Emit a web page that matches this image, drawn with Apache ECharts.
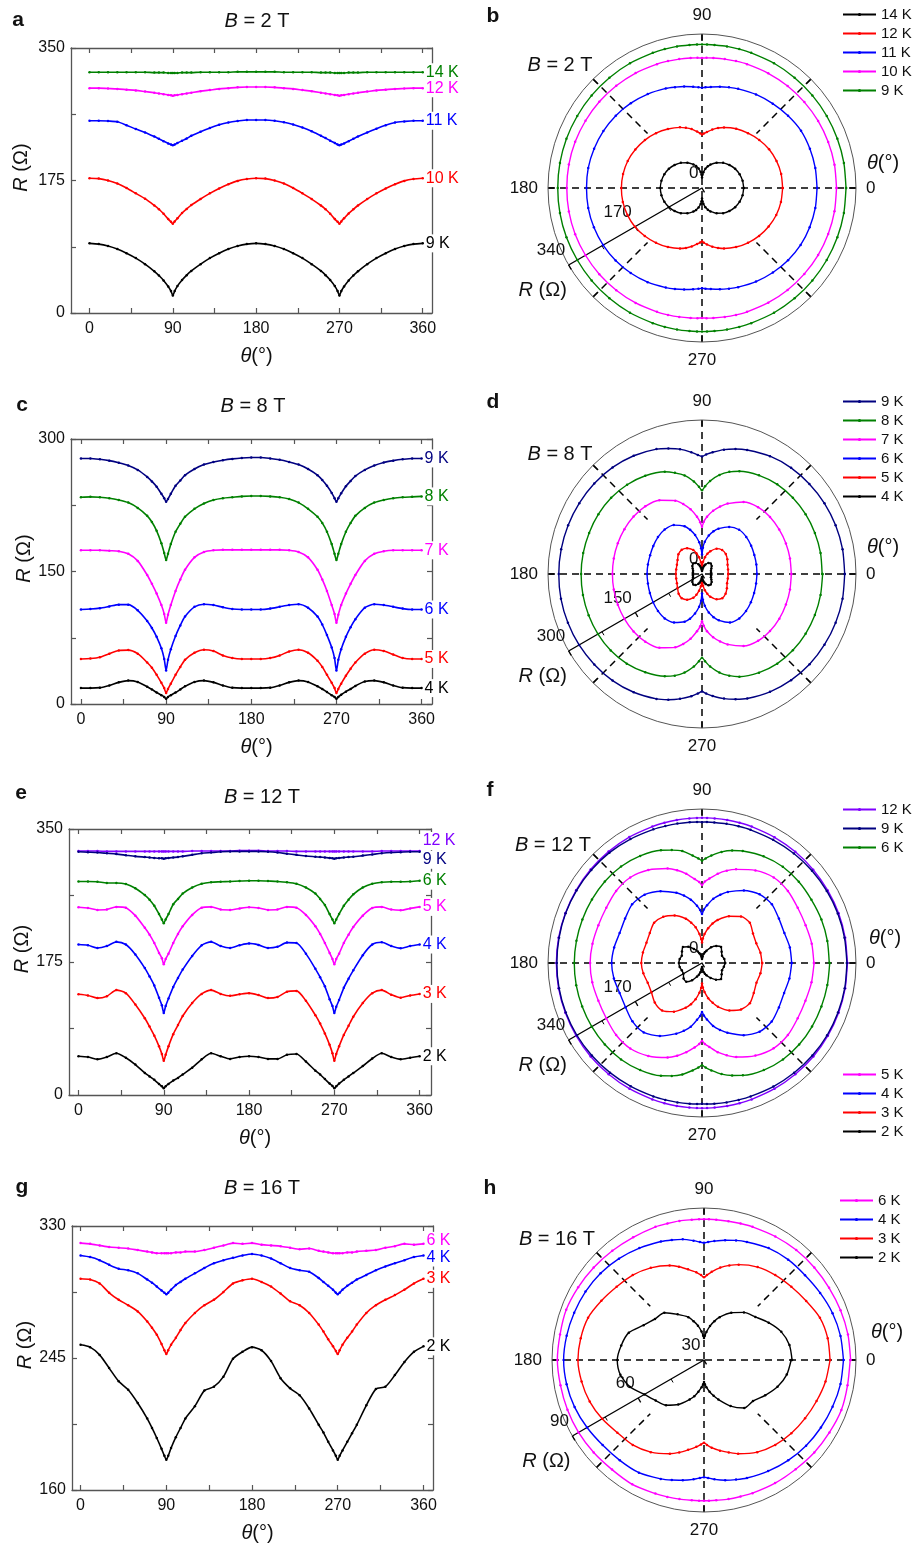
<!DOCTYPE html>
<html><head><meta charset="utf-8">
<script src="https://cdn.jsdelivr.net/npm/echarts/dist/echarts.min.js"></script>
<style>html,body{margin:0;padding:0;background:#fff}#c{width:917px;height:1548px}</style>
</head><body><div id="c"></div>
<script>
// ---------- data ----------
const TH = [0,10,20,30,40,50,60,70, 75,80,85,88,90,92,95,100,105, 110,120,130,140,150,160,170,180,190,200,210,220,230,240,250, 255,260,265,268,270,272,275,280,285, 290,300,310,320,330,340,350,360];

// B = 2 T
const R2_14 = [318,318,318,318,318,318,318,317.5, 317.5,317.5,317,317,317,317,317,317.5,317.5, 317.5,318,318,318,318,318.5,318.5,318.5,318.5,318.5,318,318,318,318,317.5, 317.5,317.5,317,317,317,317,317,317.5,317.5, 317.5,318,318,318,318,318,318,318];
const R2_12 = [297,297,296.5,296,295,294,292.5,291, 290,289,288,287.5,287,287.5,288,289,290, 291,293,294.5,296,297,298,298.5,298.5,298.5,298,297,296,294.5,293,291, 290,289,288,287.5,287,287.5,288,289,290, 291,292.5,294,295,296,296.5,297,297];
const R2_11 = [254,254,253.5,252.5,248,243,238.5,233, 230,227,224,222.5,221.5,222.5,224.5,227.5,230.5, 234,239.5,244.5,248.5,251.5,253.5,255,255,255,254,252,249,245,240,234, 231,227.5,224.5,222.5,221.5,222.5,224,227,230, 233,238.5,243.5,248,251.5,253,254,254];
const R2_10 = [178,177.5,175,171,165,158,151,142, 137,131,124,120.5,118,121,125,132,137.5, 142.5,150.5,158,164.5,170,174.5,177,178,177.5,175,171,165,158,150.5,142, 137,131,124,120.5,118,121,125,131.5,137, 142,150.5,158,164.5,170,174.5,177,178];
const R2_9 = [92,91,88.5,84.5,79,72.5,64.5,55, 49.5,43,35,29,23,29,35.5,43.5,50, 55.5,64.5,72.5,79,84.5,88.5,91,92,91,88.5,84.5,79,72.5,64.5,55.5, 50,43.5,35.5,29,23,29,35,43,49.5, 55,64.5,72.5,79,84.5,88.5,91,92];

// B = 8 T
const R8_9 = [278,278,277,275.5,273,270,265,257, 252,246,238,233,229,232,238,247,253, 259,266,271,274,276,277.5,278.5,279,279,278,276.5,274,271,266,259, 253.5,247,239,233,229,233,238.5,246.5,252.5, 258,265,270,273.5,275.5,277,278,278];
const R8_8 = [234,234.5,234,233,231,228,222,213, 206,196,182,171,163,170,181,195,204, 212,221,227,231,233,234,235,235.5,235.5,235,234,232,228,221,212, 205,195,181,170,163,170,181,195,205, 213,222,228,231,233,234,234.5,235];
const R8_7 = [174,174,174,173.5,173,170,162,146, 136,125,112,102,92,101,112,128,141, 152,166,172,174,174.5,174.5,174.5,174.5,174.5,174.5,174.5,174,172,166,152, 141,128,112,102,92,101,112,125,136, 146,162,170,173,174,174,174,174];
const R8_6 = [107,107.5,108.5,110.5,112.5,112.5,106,94, 86,76,63,51,38,50,62,77,89, 99,110,113,112,109.5,107.5,107,107,107,108,110,112,113,109,99, 90,78,64,52,38,50,62,76,87, 96,109,113,112,110,108,107,107];
const R8_5 = [51,51.5,53,57,60.5,61,57,47, 41,33,24,18,12.5,17,23,33,42, 50,58,61.5,60,55,52,51,51,51,52,55,59.5,61.5,58,49, 42,33,24,18,12.5,17,23,32,40, 47,57,61.5,60,56,52,51,51];
const R8_4 = [18,18,18.5,21,24.5,26.5,25,19.5, 16.5,13,10,8,6,8,10,13,16.5, 20,25,26.5,24.5,21,18.5,18,18,18,18.5,21,24.5,26.5,25,20, 17,13.5,10,8,6,8,10.5,14,17, 20.5,25.5,26.5,24.5,21,18.5,18,18];

// B = 12 T
const R12_12 = [321,321,321,320.5,320.5,320.5,320.5,320.5, 320.5,320.5,320.5,320.5,320.5,320.5,320.5,320.5,320.5, 320.5,321,321,321,321,321,321.5,321.5,321.5,321,321,321,320.5,320.5,320.5, 320.5,320.5,320.5,320.5,320.5,320.5,320.5,320.5,320.5, 320.5,320.5,320.5,321,321,321,321,321];
const R12_9 = [320,319.5,319,318,317,315.5,314,313, 312.5,312,311.5,311.5,311,311.5,312,312.5,313, 314,316,318,319,320,320.5,320.5,320.5,320.5,320,319,317.5,316,314.5,313.5, 313,312.5,312,311.5,311,311.5,312,312.5,313, 313.5,315,316.5,318,319,319.5,320,320];
const R12_6 = [281,281,280.5,279,279,277.5,272,263, 257,249,238,231,226,231,238,251,258, 265,273,278,280,280.5,281,281.5,282,282,281.5,281,280,278,273,265, 258,250,238,231,226,231,238,249,257, 264,273,278,280,280.5,280.5,281,282];
const R12_5 = [247,246,243.5,244,247.5,246.5,236,220, 211,200,187,180,172,179,186,200,212, 222,237,246.5,247.5,244,243.5,245.5,247,246,243.5,244,247.5,246.5,237,222, 212,200,187,179,172,179,186,200,211, 221,236,246,247.5,244,243,245.5,247.5];
const R12_4 = [198,197,193.5,196,201.5,198,185,167, 156,144,128,118,108,117,127,142,154, 165,183,197,201.5,196,193.5,197,199.5,197.5,193.5,195,200.5,200,186,166, 155,143,126,117,108,116,125,141,153, 164,184,198,201,196,193,196,198];
const R12_3 = [132.5,131,127.5,130,138,134,119,101, 90,78,64,54,45,53,64,80,92, 104,121,133,138,133,130.5,132.5,134,131.5,127.5,129,136,137,124,105, 94,81,66,55,45,54,64,79,91, 103,121,134,138,132,128,131,133];
const R12_2 = [51,50,47,50,55,49,40,29, 24.5,20,14.5,11.5,9,11.5,14.5,19,22.5, 27,36,47,55,51,47.5,50,51,50,47.5,47.5,53,54,44,32, 27,21,15,12,9,11.5,15,20,24.5, 29,38,48,55,50,47,49,51];

// B = 16 T
const R16_6 = [319,318.5,317.5,316.5,316,315.5,314.5,313.5, 313,312.5,312.5,312.5,312.5,312.5,312.5,313,313, 313.5,313.5,314.5,316,317.5,319,318.5,319,318,317.5,317,316,315,315.5,314, 313.5,313,312.5,312.5,312.5,312.5,312.5,313,313, 313.5,314,314.5,316,317,318.5,318,318.5];
const R16_4 = [311,310,308,305,302.5,301.5,299.5,295.5, 293.5,291,288.5,287,286,287,289,292,294, 296,299.5,303,306,308,309.5,311,312,311,309,306,303,301.5,300.5,296.5, 294,291.5,289,287,286,287,289,291.5,293.5, 295.5,298.5,301.5,304,306,308,310,311];
const R16_3 = [296,295.5,293,287,282.5,279,275,268.5, 264.5,260,254,250,247.5,250,253.5,258,263, 267.5,274,279,282.5,287.5,293,295,296,294,291,286.5,281.5,279,274,266.5, 262,257,252.5,249.5,247.5,250,253.5,258,262, 266.5,274,279,282.5,285.5,289,293,296];
const R16_2 = [253.5,252,247,238.5,230,224.5,216,206, 200,193.5,186.5,182,179.5,182,187,194,200, 206,214,224,226.5,233,244.5,249,252,250,243,232,225.5,221,212.5,202, 197,191,185.5,182,179.5,182,185.5,191,196.5, 202,214.5,225,226.5,234,242.5,249,252.5];

// names / labels
const NAMES_A = ['14 K','12 K','11 K','10 K','9 K'];
const NAMES_C = ['9 K','8 K','7 K','6 K','5 K','4 K'];
const NAMES_E = ['12 K','9 K','6 K','5 K','4 K','3 K','2 K'];
const NAMES_G = ['6 K','4 K','3 K','2 K'];
const LEG_B = ['14 K','12 K','11 K','10 K','9 K'];
const LEG_D = ['9 K','8 K','7 K','6 K','5 K','4 K'];
const LEG_F = ['12 K','9 K','6 K','5 K','4 K','3 K','2 K'];
const LEG_H = ['6 K','4 K','3 K','2 K'];
const FIELDS = ['2','8','12','16'];

// tick labels
const XT = [0,45,90,135,180,225,270,315,360];
const XL = [0,90,180,270,360];
const YL_A = [0,175,350], YT_A = [0,87.5,175,262.5,350];
const YL_C = [0,150,300], YT_C = [0,75,150,225,300];
const YL_E = [0,175,350], YT_E = [0,87.5,175,262.5,350];
const YL_G = [160,245,330], YT_G = [160,202.5,245,287.5,330];
const RL_B = [0,170,340], RL_D = [0,150,300], RL_F = [0,170,340], RL_H = [30,60,90];
const ANG_L = [0,90,180,270];

// ---------- layout ----------
const FONT = '"Liberation Sans", Arial, Helvetica, sans-serif';
const C = {k:'#000000', r:'#ff0000', b:'#0000ff', m:'#ff00ff', g:'#008000', n:'#000080', p:'#8000ff'};
const ital = s => ({fontSize:s, fontFamily:FONT, fontStyle:'italic', color:'#111'});

const CART = [
  {id:'a', grid:{left:71, top:48, width:361, height:265}, xr:[-20,370], yl:YL_A, yt:YT_A, yGap:40,
   names:NAMES_A, data:[R2_14,R2_12,R2_11,R2_10,R2_9], cols:[C.g,C.m,C.b,C.r,C.k], dy:[0,0,0,0,0]},
  {id:'c', grid:{left:71, top:439, width:361, height:265}, xr:[-10.5,371], yl:YL_C, yt:YT_C, yGap:33,
   names:NAMES_C, data:[R8_9,R8_8,R8_7,R8_6,R8_5,R8_4], cols:[C.n,C.g,C.m,C.b,C.r,C.k], dy:[0,0,0,0,0,0]},
  {id:'e', grid:{left:69, top:829, width:362, height:266}, xr:[-10,372], yl:YL_E, yt:YT_E, yGap:36,
   names:NAMES_E, data:[R12_12,R12_9,R12_6,R12_5,R12_4,R12_3,R12_2], cols:[C.p,C.n,C.g,C.m,C.b,C.r,C.k], dy:[-10,8,0,0,0,0,0]},
  {id:'g', grid:{left:72, top:1226, width:361, height:264}, xr:[-9,370], yl:YL_G, yt:YT_G, yGap:36,
   names:NAMES_G, data:[R16_6,R16_4,R16_3,R16_2], cols:[C.m,C.b,C.r,C.k], dy:[-3,2,0,0]}
];
const POL = [
  {id:'b', c:[702,188], r:154, dr:[0,340], rl:RL_B, legLeft:842, leg:[{top:7, items:[0,1,2,3,4]}],
   names:LEG_B, data:[R2_9,R2_10,R2_11,R2_12,R2_14], cols:[C.k,C.r,C.b,C.m,C.g]},
  {id:'d', c:[702,574], r:154, dr:[0,300], rl:RL_D, legLeft:842, leg:[{top:394, items:[0,1,2,3,4,5]}],
   names:LEG_D, data:[R8_9,R8_8,R8_7,R8_6,R8_5,R8_4], cols:[C.n,C.g,C.m,C.b,C.r,C.k]},
  {id:'f', c:[702,963], r:154, dr:[0,340], rl:RL_F, legLeft:842, leg:[{top:802, items:[0,1,2]},{top:1067, items:[3,4,5,6]}],
   names:LEG_F, data:[R12_12,R12_9,R12_6,R12_5,R12_4,R12_3,R12_2], cols:[C.p,C.n,C.g,C.m,C.b,C.r,C.k]},
  {id:'h', c:[704,1360], r:152, dr:[155,325], rl:RL_H, legLeft:839, leg:[{top:1193, items:[0,1,2,3]}],
   names:LEG_H, data:[R16_6,R16_4,R16_3,R16_2], cols:[C.m,C.b,C.r,C.k]}
];
const LETTERS = [['a',18,20],['b',493,16],['c',22,405],['d',493,402],['e',21,793],['f',490,790],['g',22,1187],['h',490,1188]];
const CART_TITLES = [[257,21],[253,406],[262,797],[262,1188]];
const POL_TITLES = [[560,65],[560,454],[553,845],[557,1239]];
const POL_THETA = [[883,163],[883,547],[885,938],[887,1332]];

const option = {animation:false, backgroundColor:'#ffffff', textStyle:{fontFamily:FONT},
  grid:[], xAxis:[], yAxis:[], polar:[], angleAxis:[], radiusAxis:[], legend:[], series:[], graphic:[]};

const axLine = {show:true, onZero:false, lineStyle:{color:'#555', width:1.3}};
const tick = vals => ({show:true, inside:true, length:5, customValues:vals, lineStyle:{color:'#555', width:1.2}});
const lab = {fontSize:16, color:'#111', fontFamily:FONT};
const plab = {fontSize:17, color:'#111', fontFamily:FONT};

CART.forEach((P,k)=>{
  option.grid.push(Object.assign({containLabel:false}, P.grid));
  option.xAxis.push({gridIndex:k, type:'value', min:P.xr[0], max:P.xr[1], position:'bottom',
    axisLine:axLine, axisTick:tick(XT), axisLabel:Object.assign({customValues:XL, margin:8}, lab), splitLine:{show:false},
    name:'{i|θ}(°)', nameLocation:'middle', nameGap:33,
    nameTextStyle:{fontSize:20, color:'#111', fontFamily:FONT, padding:[0,0,0,10], rich:{i:ital(20)}}});
  option.xAxis.push({gridIndex:k, type:'value', min:P.xr[0], max:P.xr[1], position:'top',
    axisLine:axLine, axisTick:tick(XT), axisLabel:{show:false}, splitLine:{show:false}});
  option.yAxis.push({gridIndex:k, type:'value', min:P.yl[0], max:P.yl[P.yl.length-1], position:'left',
    axisLine:axLine, axisTick:tick(P.yt), axisLabel:Object.assign({customValues:P.yl, margin:6}, lab), splitLine:{show:false},
    name:'{i|R} (Ω)', nameLocation:'middle', nameGap:P.yGap, nameRotate:90,
    nameTextStyle:{fontSize:20, color:'#111', fontFamily:FONT, padding:[0,0,0,26], rich:{i:ital(20)}}});
  option.yAxis.push({gridIndex:k, type:'value', min:P.yl[0], max:P.yl[P.yl.length-1], position:'right',
    axisLine:axLine, axisTick:tick(P.yt), axisLabel:{show:false}, splitLine:{show:false}});
  P.data.forEach((arr,i)=>{
    const nm = P.names[i], col = P.cols[i];
    option.series.push({type:'line', name:P.id+':'+nm, xAxisIndex:2*k, yAxisIndex:2*k,
      data:TH.map((t,q)=>[t, arr[q]]), symbol:'circle', symbolSize:2.5, showSymbol:true, smooth:0.25,
      lineStyle:{color:col, width:1.6}, itemStyle:{color:col}, z:3, emphasis:{disabled:true},
      endLabel:{show:true, formatter:nm, color:col, fontSize:16, fontFamily:FONT, distance:2,
        offset:[0,P.dy[i]], backgroundColor:'#ffffff', padding:[1,1]}});
  });
});

const dash = {show:true, lineStyle:{color:'#000', width:1.5, type:[7,5]}};
POL.forEach((P,j)=>{
  const b = option.polar.length;
  option.polar.push({center:P.c, radius:P.r});
  option.polar.push({center:P.c, radius:[P.r*0.5, P.r]});
  option.polar.push({center:P.c, radius:P.r});
  option.angleAxis.push({polarIndex:b, type:'value', min:0, max:360, interval:90, startAngle:0, clockwise:false,
    axisLine:{show:true, lineStyle:{color:'#555', width:1}}, axisTick:{show:true, inside:true, length:6, lineStyle:{color:'#000', width:1.3}},
    axisLabel:Object.assign({margin:10, formatter:v=>ANG_L.includes(v)?String(v):''}, plab), splitLine:dash});
  option.radiusAxis.push({polarIndex:b, type:'value', min:P.dr[0], max:P.dr[1], show:false});
  option.angleAxis.push({polarIndex:b+1, type:'value', min:45, max:405, interval:90, startAngle:45, clockwise:false,
    axisLine:{show:false}, axisTick:{show:true, inside:true, length:6, lineStyle:{color:'#000', width:1.3}}, axisLabel:{show:false}, splitLine:dash});
  option.radiusAxis.push({polarIndex:b+1, type:'value', min:0, max:1, show:false});
  option.angleAxis.push({polarIndex:b+2, type:'value', min:0, max:360, startAngle:210, clockwise:false, show:false});
  option.radiusAxis.push({polarIndex:b+2, type:'value', min:P.rl[0], max:P.rl[2], interval:P.rl[1]-P.rl[0],
    axisLine:{show:true, lineStyle:{color:'#000', width:1.4}}, axisTick:{show:true, length:5, lineStyle:{color:'#000', width:1.3}},
    minorTick:{show:true, splitNumber:2, length:4, lineStyle:{color:'#000'}},
    axisLabel:Object.assign({margin:-7, align:'right', verticalAlign:'bottom'}, plab),
    splitLine:{show:false}, minorSplitLine:{show:false},
    name:'{i|R} (Ω)', nameLocation:'end', nameGap:30,
    nameTextStyle:{fontSize:20, color:'#111', fontFamily:FONT, align:'center', verticalAlign:'top', rich:{i:ital(20)}}});
  P.data.forEach((arr,i)=>{
    const col = P.cols[i];
    option.series.push({type:'line', coordinateSystem:'polar', polarIndex:b, name:P.id+':'+P.names[i],
      data:TH.map((t,q)=>[arr[q], t]), symbol:'circle', symbolSize:2.5, showSymbol:true, smooth:0.25,
      lineStyle:{color:col, width:1.4}, itemStyle:{color:col}, z:3, emphasis:{disabled:true}});
  });
  P.leg.forEach(L=>option.legend.push({left:P.legLeft, top:L.top, orient:'vertical', padding:0,
    data:L.items.map(i=>P.id+':'+P.names[i]), itemWidth:33, itemHeight:4, itemGap:4, selectedMode:false,
    formatter:n=>n.split(':')[1], textStyle:{fontSize:15, color:'#111', fontFamily:FONT, lineHeight:15}}));
});

const txt = (x,y,text,size,extra) => ({type:'text', x, y, silent:true,
  style:Object.assign({text, fontSize:size, fontFamily:FONT, fill:'#111', align:'center', verticalAlign:'middle',
    textAlign:'center', textVerticalAlign:'middle', rich:{i:{fontStyle:'italic', fontSize:size, fontFamily:FONT, fill:'#111'}}}, extra||{})});
LETTERS.forEach(([t,x,y])=>option.graphic.push(txt(x,y,t,21,{fontWeight:'bold'})));
CART_TITLES.forEach(([x,y],i)=>option.graphic.push(txt(x,y,'{i|B} = '+FIELDS[i]+' T',20)));
POL_TITLES.forEach(([x,y],i)=>option.graphic.push(txt(x,y,'{i|B} = '+FIELDS[i]+' T',20)));
POL_THETA.forEach(([x,y])=>option.graphic.push(txt(x,y,'{i|θ}(°)',20)));

const chart = echarts.init(document.getElementById('c'), null, {renderer:'canvas', width:917, height:1548});
chart.setOption(option);
</script></body></html>
